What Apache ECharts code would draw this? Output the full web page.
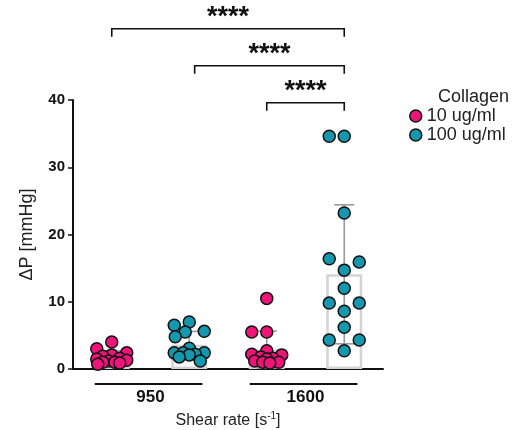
<!DOCTYPE html>
<html>
<head>
<meta charset="utf-8">
<script src="https://cdn.jsdelivr.net/npm/echarts@6/dist/echarts.min.js"></script>
<style>
  html, body { margin: 0; padding: 0; background: #fff; }
  #chart { width: 527px; height: 430px; }
</style>
</head>
<body>
<div id="chart"></div>
<script>
// shear rate groups and collagen concentrations
const groups = ['950', '1600'];
const concs = ['10 ug/ml', '100 ug/ml'];
// ΔP [mmHg], one point per chip
const pink950 = [4.0, 3.0, 2.4, 2.1, 1.9, 1.6, 1.5, 1.3, 1.2, 1.0, 1.0, 0.9, 0.7];
const teal950 = [7.0, 6.5, 5.6, 5.5, 4.8, 3.1, 2.4, 2.4, 2.4, 2.2, 2.1, 1.8, 1.2];
const pink1600 = [10.5, 5.5, 5.5, 2.7, 2.2, 2.1, 1.8, 1.6, 1.5, 1.2, 1.0, 1.0, 0.9];
const teal1600 = [34.6, 34.6, 23.2, 14.7, 16.4, 15.9, 12.0, 8.6, 9.8, 9.8, 6.2, 4.3, 2.7, 4.3];
const yTicks = [0, 10, 20, 30, 40];
// significance: [from column, to column, label]
const signif = [[0, 3, '****'], [1, 3, '****'], [2, 3, '****']];

const PINK = '#EE1479';
const TEAL = '#1597AD';
const FONT = 'Liberation Sans, Arial, sans-serif';

const columns = [pink950, teal950, pink1600, teal1600];
const mean = a => a.reduce((s, v) => s + v, 0) / a.length;
const sd = a => {
  const m = mean(a);
  return Math.sqrt(a.reduce((s, v) => s + (v - m) * (v - m), 0) / (a.length - 1));
};
const stats = columns.map((a, i) => [i, mean(a), sd(a)]);

const chart = echarts.init(document.getElementById('chart'));

const base = {
  animation: false,
  textStyle: { fontFamily: FONT },
  title: {
    text: 'Collagen',
    left: 438, top: 88, padding: 0,
    textStyle: { fontSize: 18, fontWeight: 'normal', color: '#222', fontFamily: FONT }
  },
  legend: {
    data: concs,
    orient: 'vertical',
    left: 409, top: 107, padding: 0,
    icon: 'circle',
    itemWidth: 12, itemHeight: 12, itemGap: 1,
    itemStyle: { borderColor: '#111', borderWidth: 1.5 },
    textStyle: { fontSize: 18, color: '#222', fontFamily: FONT }
  },
  grid: { left: 73, top: 100, width: 310, height: 269, outerBoundsMode: 'none' },
  xAxis: [{
    type: 'category',
    data: ['a', 'b', 'c', 'd'],
    axisLine: { lineStyle: { color: '#111', width: 2 } },
    axisTick: { alignWithLabel: true, length: 4, lineStyle: { color: '#111', width: 1.5 } },
    axisLabel: { show: false },
    name: 'Shear rate [s{sup|-1}]',
    nameLocation: 'middle',
    nameGap: 42,
    nameTextStyle: {
      fontSize: 16, color: '#222', fontFamily: FONT,
      rich: { sup: { fontSize: 10, verticalAlign: 'top', padding: [0, 0, 9, 0], color: '#222' } }
    }
  }, {
    type: 'value', min: -0.5, max: 3.5, show: false
  }, {
    type: 'category',
    data: groups,
    position: 'bottom',
    offset: 13,
    axisLine: { show: false },
    axisTick: { show: false },
    axisLabel: { fontSize: 17, fontWeight: 'bold', color: '#111', margin: 7, fontFamily: FONT }
  }],
  yAxis: {
    type: 'value', min: 0, max: 40, interval: 10,
    name: 'ΔP [mmHg]',
    nameLocation: 'middle',
    nameGap: 37,
    nameTextStyle: { fontSize: 18, color: '#222', fontFamily: FONT },
    axisLine: { show: true, onZero: false, lineStyle: { color: '#111', width: 2 } },
    axisTick: { show: true, length: 5, lineStyle: { color: '#111', width: 1.5 } },
    axisLabel: {
      fontSize: 15, fontWeight: 'bold', color: '#111', margin: 8, fontFamily: FONT,
      formatter: v => yTicks.indexOf(v) >= 0 ? String(v) : ''
    },
    splitLine: { show: false }
  },
  series: []
};
chart.setOption(base);

// beeswarm layout in pixels, through the chart's own scales
const R = 6;
function swarm(values, col) {
  const unit = chart.convertToPixel({ xAxisIndex: 1 }, 1) - chart.convertToPixel({ xAxisIndex: 1 }, 0);
  const placed = [];
  return values.map(v => {
    const py = chart.convertToPixel({ yAxisIndex: 0 }, v);
    const minDist = dx => placed.reduce((m, p) => Math.min(m, Math.hypot(p[0] - dx, p[1] - py)), Infinity);
    let best = null;
    for (const dx of [0, -15, 15]) {
      if (minDist(dx) >= 13) { best = dx; break; }
    }
    if (best === null) {
      let bestD = -1;
      for (let k = 0; k <= 15; k++) {
        for (const dx of (k === 0 ? [0] : [-k, k])) {
          const d = minDist(dx);
          if (d > bestD + 0.5) { bestD = d; best = dx; }
        }
      }
    }
    placed.push([best, py]);
    return [col + best / unit, v];
  });
}

const pinkData = swarm(pink950, 0).concat(swarm(pink1600, 2));
const tealData = swarm(teal950, 1).concat(swarm(teal1600, 3));

const dot = color => ({
  color: color, borderColor: '#111', borderWidth: 1.5, opacity: 1
});

chart.setOption({
  series: [{
    type: 'bar',
    xAxisIndex: 0,
    data: stats.map(s => s[1]),
    barWidth: 36,
    z: 1,
    silent: true,
    itemStyle: { color: '#fff', borderColor: '#d4d4d4', borderWidth: 2.5 }
  }, {
    type: 'custom',
    xAxisIndex: 1,
    z: 2,
    silent: true,
    data: stats,
    renderItem: (params, api) => {
      const x = api.value(0), m = api.value(1), s = api.value(2);
      const top = api.coord([x, m + s]);
      const bot = api.coord([x, Math.max(0, m - s)]);
      const st = { stroke: '#9a9a9a', lineWidth: 1.6 };
      return {
        type: 'group',
        children: [
          { type: 'line', shape: { x1: top[0], y1: top[1], x2: bot[0], y2: bot[1] }, style: st },
          { type: 'line', shape: { x1: top[0] - 10, y1: top[1], x2: top[0] + 10, y2: top[1] }, style: st },
          { type: 'line', shape: { x1: bot[0] - 10, y1: bot[1], x2: bot[0] + 10, y2: bot[1] }, style: st }
        ]
      };
    }
  }, {
    name: concs[0],
    type: 'scatter',
    xAxisIndex: 1,
    z: 3,
    symbol: 'circle',
    symbolSize: 2 * R,
    itemStyle: dot(PINK),
    data: pinkData
  }, {
    name: concs[1],
    type: 'scatter',
    xAxisIndex: 1,
    z: 3,
    symbol: 'circle',
    symbolSize: 2 * R,
    itemStyle: dot(TEAL),
    data: tealData
  }, {
    // group lines under the axis
    type: 'custom',
    xAxisIndex: 1,
    silent: true,
    clip: false,
    data: groups.map((g, i) => [i * 2]),
    renderItem: (params, api) => {
      const c = api.value(0);
      const a = api.coord([c - 0.22, 0]);
      const b = api.coord([c + 1.17, 0]);
      return {
        type: 'line',
        shape: { x1: a[0], y1: a[1] + 15, x2: b[0], y2: b[1] + 15 },
        style: { stroke: '#111', lineWidth: 2 }
      };
    }
  }, {
    // significance brackets
    type: 'custom',
    xAxisIndex: 1,
    silent: true,
    clip: false,
    data: signif.map((s, i) => [s[0], s[1], i]),
    renderItem: (params, api) => {
      const from = api.value(0), to = api.value(1), lvl = api.value(2);
      const yVal = 50.6 - lvl * 5.5;
      const a = api.coord([from === 1 ? 1.07 : from, yVal]);
      const b = api.coord([to, yVal]);
      return {
        type: 'group',
        children: [{
          type: 'polyline',
          shape: { points: [[a[0], a[1] + 8], a, b, [b[0], b[1] + 8]] },
          style: { stroke: '#111', lineWidth: 1.6, fill: null }
        }, {
          type: 'text',
          style: {
            text: signif[params.dataIndex][2],
            x: (a[0] + b[0]) / 2, y: a[1] - 11,
            align: 'center', verticalAlign: 'middle',
            font: 'bold 27px ' + FONT, fill: '#111'
          }
        }]
      };
    }
  }]
});
</script>
</body>
</html>
